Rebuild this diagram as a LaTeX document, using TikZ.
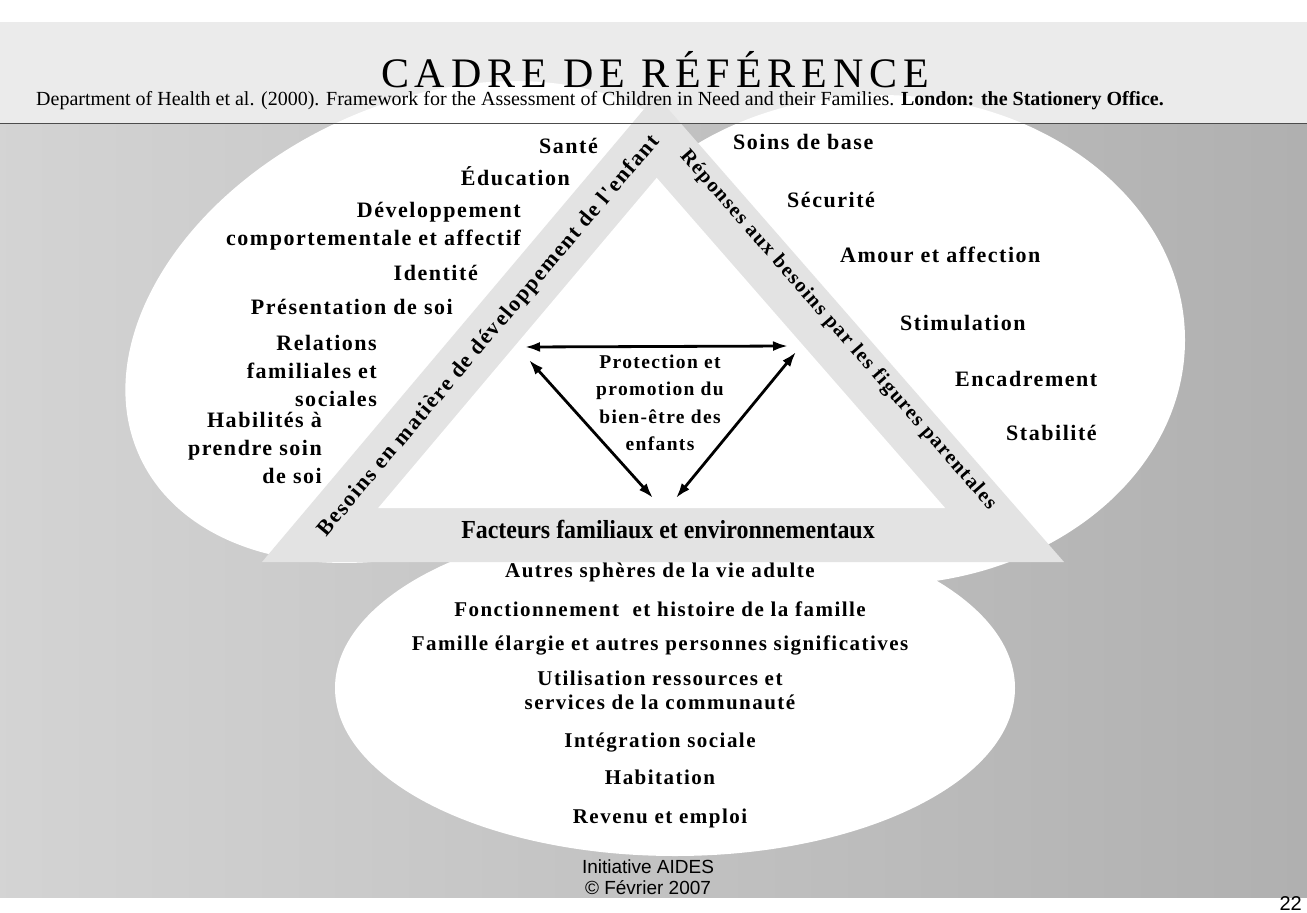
\documentclass[tikz,border=0pt]{standalone}
\usepackage{fontspec}
\setmainfont{Liberation Serif}
\newfontfamily\itemfont[LetterSpace=7]{Liberation Serif}
\newfontfamily\titlefont[LetterSpace=14]{Liberation Serif}
\newfontfamily\sansfont{Liberation Sans}
\usetikzlibrary{arrows.meta,calc}

\begin{document}
\begin{tikzpicture}[x=1pt,y=-1pt]
    % Node styles
    \tikzstyle{left_item} = [anchor=east, align=right, inner sep=0pt, font=\itemfont\bfseries\fontsize{22}{28}\selectfont]
    \tikzstyle{right_item} = [anchor=west, inner sep=0pt, font=\itemfont\bfseries\fontsize{22}{28}\selectfont]
    \tikzstyle{bottom_item} = [anchor=center, align=center, inner sep=0pt, font=\itemfont\bfseries\fontsize{21}{24}\selectfont]
    \tikzstyle{band_text} = [anchor=center, inner sep=0pt, font=\itemfont\bfseries\fontsize{22}{22}\selectfont]
    \tikzstyle{both_arrow} = [{Latex[length=15pt,width=10pt]}-{Latex[length=15pt,width=10pt]}, line width=2.8pt]

    % Background
    \useasboundingbox (0,0) rectangle (1307,913);
    \fill[white] (0,0) rectangle (1307,913);
    \fill[gray!16] (0,22) rectangle (1307,123);
    \shade[left color=gray!34, right color=gray!62] (0,123) rectangle (1307,897);

    % White areas
    \fill[white, rotate around={25:(430,322)}] (430,322) ellipse [x radius=320, y radius=220];
    \fill[white] (880,340) ellipse [x radius=305, y radius=245];
    \fill[white] (675,688) ellipse [x radius=340, y radius=168];

    % Triangle with its three bands
    \coordinate (oA) at (656,95);
    \coordinate (oB) at (262,562);
    \coordinate (oC) at (1064,562);
    \coordinate (inc) at (658.4,377.8);
    \coordinate (iA) at ($(inc)!0.707!(oA)$);
    \coordinate (iB) at ($(inc)!0.707!(oB)$);
    \coordinate (iC) at ($(inc)!0.707!(oC)$);
    \fill[gray!22] (oA) -- (oB) -- (oC) -- cycle;
    \fill[white] (iA) -- (iB) -- (iC) -- cycle;

    % Rule under the header
    \draw[gray!60!black, line width=0.9pt] (0,123) -- (1307,123);

    % Header
    \node[inner sep=0pt, font=\titlefont\fontsize{42}{42}\selectfont] (title) at (655,70) {CADRE DE RÉFÉRENCE};
    \node[inner sep=0pt, font=\fontsize{20}{20}\selectfont] (source) at (600,101) {Department of Health et al. (2000). Framework for the Assessment of Children in Need and their Families. \textbf{London: the Stationery Office.}};

    % Bands
    \node[band_text, rotate=49.85] (besoins) at (489,336) {Besoins en matière de développement de l'enfant};
    \node[band_text, rotate=-48.85, font=\itemfont\bfseries\fontsize{20.5}{20.5}\selectfont] (reponses) at (838,330) {Réponses aux besoins par les figures parentales};
    \node[inner sep=0pt, font=\bfseries\fontsize{26}{26}\selectfont] (facteurs) at (668,529) {\scalebox{0.92}[1]{Facteurs familiaux et environnementaux}};

    % Child development needs
    \node[left_item] (sante) at (598,146) {Santé};
    \node[left_item] (education) at (570,176) {Éducation};
    \node[left_item] (developpement) at (521,226) {Développement\\comportementale et affectif};
    \node[left_item] (identite) at (478,273) {Identité};
    \node[left_item] (presentation) at (453,307) {Présentation de soi};
    \node[left_item] (relations) at (377,371) {Relations\\familiales et\\sociales};
    \node[left_item] (habilites) at (322,448) {Habilités à\\prendre soin\\de soi};

    % Parenting capacity
    \node[right_item] (soins) at (733,142) {Soins de base};
    \node[right_item] (securite) at (787,200) {Sécurité};
    \node[right_item] (amour) at (840,255) {Amour et affection};
    \node[right_item] (stimulation) at (900,323) {Stimulation};
    \node[right_item] (encadrement) at (955,379) {Encadrement};
    \node[right_item] (stabilite) at (1006,433) {Stabilité};

    % Family and environmental factors
    \node[bottom_item] (autres) at (660,572) {Autres sphères de la vie adulte};
    \node[bottom_item] (fonctionnement) at (660,609) {Fonctionnement~ et histoire de la famille};
    \node[bottom_item] (famille) at (660,645) {Famille élargie et autres personnes significatives};
    \node[bottom_item] (utilisation) at (660,690) {Utilisation ressources et\\services de la communauté};
    \node[bottom_item] (integration) at (660,743) {Intégration sociale};
    \node[bottom_item] (habitation) at (660,777) {Habitation};
    \node[bottom_item] (revenu) at (660,818) {Revenu et emploi};

    % Centre
    \node[anchor=center, align=center, inner sep=0pt, font=\itemfont\bfseries\fontsize{19.5}{27.5}\selectfont] (protection) at (660,403) {Protection et\\promotion du\\bien-être des\\enfants};

    % Arrows
    \coordinate (ar_l) at (525,347);
    \coordinate (ar_r) at (788,346);
    \coordinate (ar_lt) at (529,360);
    \coordinate (ar_lb) at (653,498);
    \coordinate (ar_rt) at (796,352);
    \coordinate (ar_rb) at (676,498);
    \draw[both_arrow] (ar_l) -- (ar_r);
    \draw[both_arrow] (ar_lt) -- (ar_lb);
    \draw[both_arrow] (ar_rt) -- (ar_rb);

    % Footer
    \node[align=center, inner sep=0pt, font=\sansfont\fontsize{19}{21}\selectfont] (aides) at (648,877) {Initiative AIDES\\© Février 2007};
    \node[anchor=east, inner sep=0pt, font=\sansfont\fontsize{20}{20}\selectfont] (page) at (1302,904) {22};
\end{tikzpicture}
\end{document}
